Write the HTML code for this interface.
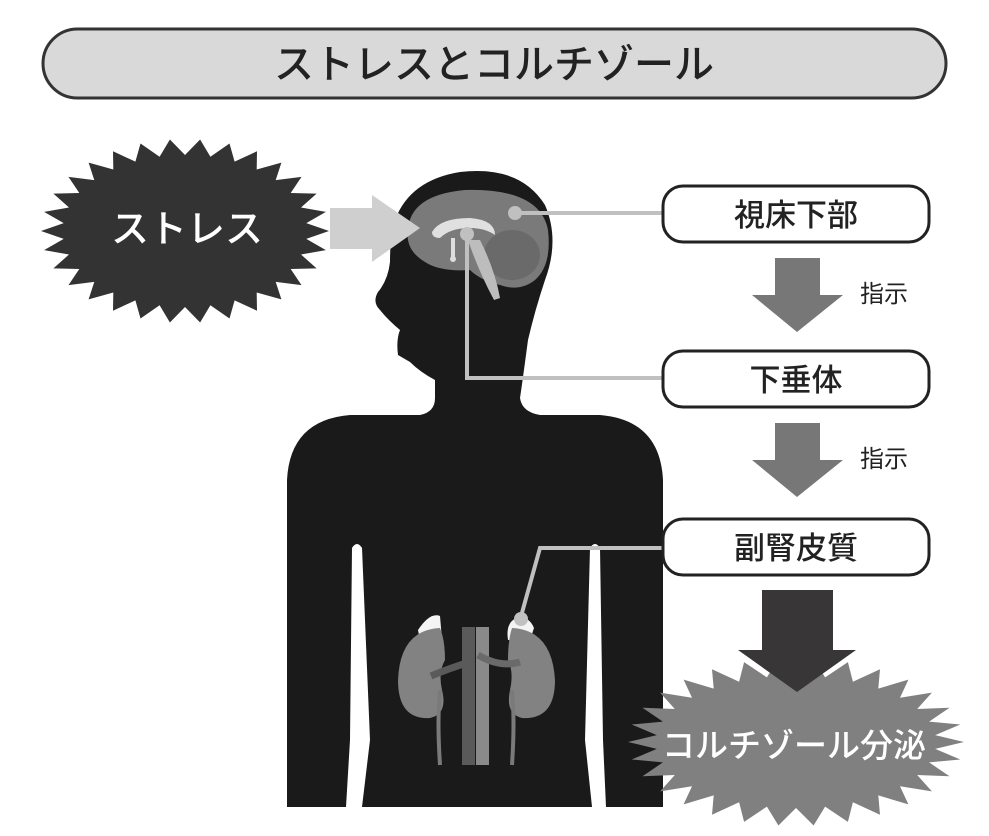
<!DOCTYPE html>
<html><head><meta charset="utf-8"><style>
body{margin:0;background:#fff;}
svg{display:block;}
text{font-family:"Liberation Sans","Noto Sans CJK JP",sans-serif;}
</style></head><body>
<svg id="s" width="989" height="836" viewBox="0 0 989 836" xmlns="http://www.w3.org/2000/svg">
<rect x="43" y="29" width="903" height="69" rx="34.5" fill="#d9d9d9" stroke="#333" stroke-width="3"/>
<text x="494" y="78" font-size="40" font-weight="500" text-anchor="middle" fill="#222">ストレスとコルチゾール</text>

<polygon id="st1" fill="#333"/>
<text x="187" y="242" font-size="38" font-weight="500" text-anchor="middle" fill="#fff">ストレス</text>

<!-- body -->
<path fill="#1a1a1a" d="M287,807 L287,480 Q290,420 350,415 L420,415 Q435,412 435,398 L435,380 Q420,372 410,362 L398,355 Q396,340 400,330 Q388,320 380,310 Q372,302 378,292 Q388,280 390,262 Q390,235 395,220 Q410,180 460,172 Q520,165 545,205 Q560,240 545,280 Q535,310 528,340 Q522,385 520,398 Q522,412 540,415 L600,415 Q660,420 663,480 L663,807 Z"/>
<path fill="#fff" d="M352,548 Q357,540 362,548 L370,740 L362,807 L346,807 L350,740 Z"/>
<path fill="#fff" d="M590,548 Q595,540 600,548 L603,740 L606,807 L592,807 L585,740 Z"/>

<!-- brain -->
<path fill="#7a7a7a" d="M408,230 Q410,195 465,190 Q540,188 548,230 Q552,265 535,280 Q520,292 500,285 Q480,280 470,270 Q440,272 425,262 Q405,250 408,230 Z"/>
<ellipse cx="512" cy="255" rx="28" ry="25" fill="#6a6a6a"/>
<path fill="#e0e0e0" d="M432,232 Q440,218 470,218 Q495,220 495,235 Q485,228 470,228 Q450,228 440,238 Q432,238 432,232 Z"/>
<path fill="#bdbdbd" d="M468,240 L480,240 Q495,270 500,298 L494,300 Q478,270 468,240 Z"/>
<rect x="451" y="238" width="4" height="20" fill="#ddd"/>
<circle cx="453" cy="259" r="3" fill="#ddd"/>

<!-- stress arrow -->
<polygon fill="#cfcfcf" points="330,208 372,208 372,195 420,228 372,262 372,249 330,249"/>

<!-- connectors -->
<g stroke="#c0c0c0" stroke-width="4" fill="none">
<line x1="515" y1="213" x2="664" y2="213"/>
<polyline points="467,233 467,378 664,378"/>
<polyline points="520,620 540,548 664,548"/>
</g>
<circle cx="515" cy="213" r="7" fill="#c0c0c0"/>
<circle cx="467" cy="234" r="7" fill="#c0c0c0"/>

<!-- kidneys -->
<g>
<path fill="#f4f4f4" d="M418,630 Q430,612 440,616 L442,640 L420,640 Z"/>
<path fill="#f4f4f4" d="M508,640 Q505,620 520,617 Q530,618 534,628 L530,640 Z"/>
<path fill="#828282" d="M440,628 Q400,630 398,680 Q398,720 430,718 Q448,714 442,690 Q438,672 445,660 Q445,640 440,628 Z"/>
<path fill="#828282" d="M512,628 Q552,630 555,680 Q555,720 522,718 Q505,714 510,690 Q514,672 508,660 Q508,640 512,628 Z"/>
<rect x="462" y="627" width="13" height="138" fill="#5a5a5a"/>
<rect x="476" y="627" width="13" height="138" fill="#8a8a8a"/>
<path d="M431,676 Q450,668 470,662" stroke="#5a5a5a" stroke-width="7" fill="none"/>
<path d="M520,662 Q500,668 478,655" stroke="#6a6a6a" stroke-width="7" fill="none"/>
<path d="M440,690 Q437,720 440,765" stroke="#7a7a7a" stroke-width="4" fill="none"/>
<path d="M512,690 Q515,720 512,765" stroke="#7a7a7a" stroke-width="4" fill="none"/>
<circle cx="521" cy="619" r="7" fill="#c0c0c0"/>
</g>

<!-- boxes -->
<g fill="#fff" stroke="#222" stroke-width="3">
<rect x="663" y="186" width="266" height="56" rx="20"/>
<rect x="663" y="351" width="266" height="56" rx="20"/>
<rect x="663" y="519" width="266" height="56" rx="20"/>
</g>
<g font-size="31" font-weight="500" text-anchor="middle" fill="#222">
<text x="796" y="226">視床下部</text>
<text x="796" y="391">下垂体</text>
<text x="796" y="559">副腎皮質</text>
</g>
<g fill="#777">
<polygon points="775,258 820,258 820,295 843,295 797,332 752,295 775,295"/>
<polygon points="775,423 820,423 820,460 843,460 797,497 752,460 775,460"/>
</g>
<g font-size="24" fill="#222">
<text x="860" y="302">指示</text>
<text x="860" y="467">指示</text>
</g>

<polygon id="st2" fill="#808080"/>
<polygon fill="#383636" points="762,590 833,590 833,650 856,650 797,692 738,650 762,650"/>
<text x="794" y="757" font-size="33" font-weight="500" text-anchor="middle" fill="#fff">コルチゾール分泌</text>
</svg>
<script>
function star(id,cx,cy,rx,ry,irx,iry,n){
 var p=[];for(var i=0;i<2*n;i++){var a=Math.PI*i/n;var o=i%2==0;
 p.push((cx+Math.cos(a)*(o?rx:irx)).toFixed(1)+","+(cy+Math.sin(a)*(o?ry:iry)).toFixed(1));}
 document.getElementById(id).setAttribute("points",p.join(" "));}
star("st1",185,231,144,92,122,76,30);
star("st2",796,742,168,84,140,66,30);
</script>
</body></html>
